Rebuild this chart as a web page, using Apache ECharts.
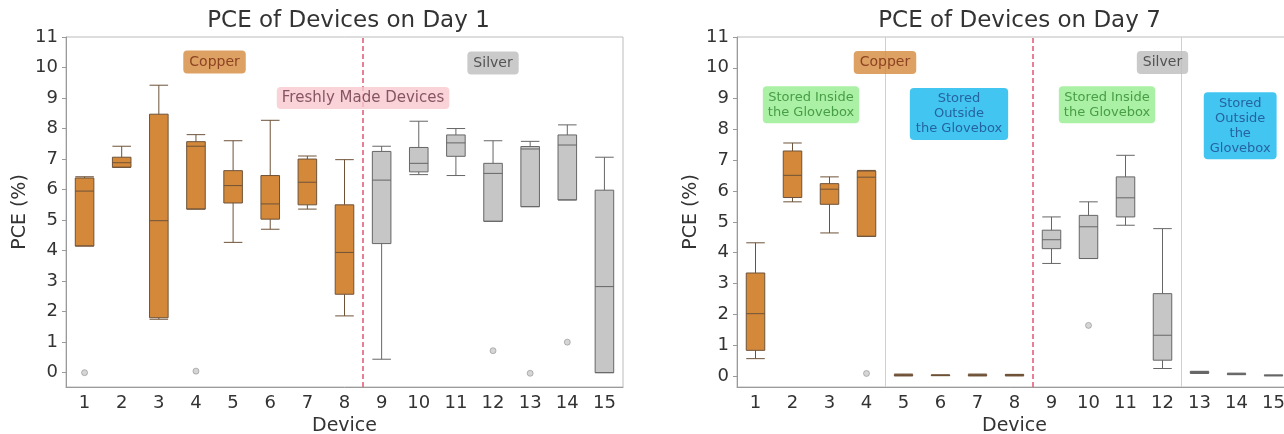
<!DOCTYPE html>
<html>
<head>
<meta charset="utf-8">
<script src="https://cdn.jsdelivr.net/npm/echarts@6/dist/echarts.min.js"></script>
<style>
  html, body { margin: 0; padding: 0; background: #fff; }
  #chart { width: 1284px; height: 434px; }
</style>
</head>
<body>
<div id="chart"></div>
<script>
// Device numbers along the x axis
const devices = ['1', '2', '3', '4', '5', '6', '7', '8', '9', '10', '11', '12', '13', '14', '15'];
// PCE tick values shown on the y axes
const yTicks = [0, 1, 2, 3, 4, 5, 6, 7, 8, 9, 10, 11];
// Devices 1-8 use copper electrodes, 9-15 silver
const copperCount = 8;

// Day 1 box statistics per device: [lower whisker, Q1, median, Q3, upper whisker]
const day1Boxes = [
  [4.15, 4.15, 5.95, 6.38, 6.42],
  [6.73, 6.73, 6.88, 7.06, 7.42],
  [1.75, 1.80, 4.98, 8.47, 9.42],
  [5.36, 5.36, 7.42, 7.57, 7.80],
  [4.27, 5.56, 6.13, 6.62, 7.60],
  [4.70, 5.03, 5.53, 6.46, 8.27],
  [5.36, 5.50, 6.24, 7.00, 7.10],
  [1.86, 2.57, 3.94, 5.50, 6.98],
  [0.44, 4.23, 6.31, 7.25, 7.42],
  [6.49, 6.58, 6.86, 7.38, 8.24],
  [6.46, 7.09, 7.53, 7.79, 8.00],
  [4.96, 4.96, 6.53, 6.86, 7.60],
  [5.44, 5.44, 7.33, 7.41, 7.58],
  [5.66, 5.66, 7.46, 7.79, 8.12],
  [0.00, 0.00, 2.82, 5.98, 7.06]
];
// Day 1 outliers: [device, PCE]
const day1Outliers = [[1, 0.0], [4, 0.05], [12, 0.72], [13, -0.02], [14, 1.0]];

// Day 7 box statistics per device
const day7Boxes = [
  [0.56, 0.83, 2.02, 3.34, 4.32],
  [5.65, 5.79, 6.51, 7.30, 7.56],
  [4.64, 5.57, 6.06, 6.24, 6.46],
  [4.53, 4.53, 6.45, 6.65, 6.67],
  [0.00, 0.01, 0.02, 0.04, 0.06],
  [0.01, 0.01, 0.02, 0.03, 0.03],
  [0.00, 0.01, 0.02, 0.04, 0.06],
  [0.00, 0.01, 0.03, 0.04, 0.05],
  [3.65, 4.13, 4.42, 4.73, 5.16],
  [3.81, 3.81, 4.84, 5.21, 5.65],
  [4.89, 5.16, 5.78, 6.46, 7.16],
  [0.24, 0.51, 1.32, 2.67, 4.78],
  [0.08, 0.09, 0.11, 0.14, 0.15],
  [0.04, 0.05, 0.06, 0.07, 0.09],
  [0.00, 0.01, 0.02, 0.02, 0.03]
];
// Day 7 outliers: [device, PCE]
const day7Outliers = [[4, 0.08], [10, 1.64]];

// Panel titles
const titles = ['PCE of Devices on Day 1', 'PCE of Devices on Day 7'];

// Text notes placed in data coordinates: [device position, PCE, text, style]
const day1Notes = [
  [4.5, 10.18, 'Copper', 'copper'],
  [12, 10.15, 'Silver', 'silver'],
  [8.5, 9.0, 'Freshly Made Devices', 'fresh']
];
const day7Notes = [
  [4.5, 10.17, 'Copper', 'copper'],
  [12, 10.17, 'Silver', 'silver'],
  [2.5, 8.8, 'Stored Inside\nthe Glovebox', 'inside'],
  [6.5, 8.5, 'Stored\nOutside\nthe Glovebox', 'outside'],
  [10.5, 8.8, 'Stored Inside\nthe Glovebox', 'inside'],
  [14.1, 8.12, 'Stored\nOutside\nthe\nGlovebox', 'outside']
];

const FONT = 'DejaVu Sans';
const noteStyles = {
  copper:  { backgroundColor: '#d48a3c', color: '#7a2a10', fontSize: 14, padding: [5, 6, 4, 6] },
  silver:  { backgroundColor: '#bdbdbd', color: '#333333', fontSize: 14, padding: [5, 6, 4, 6] },
  fresh:   { backgroundColor: '#f8c8ce', color: '#6a3444', fontSize: 15, padding: [4, 5, 3, 5] },
  inside:  { backgroundColor: '#95ec8e', color: '#2e8a2e', fontSize: 13, lineHeight: 15, padding: [4, 5, 3, 5] },
  outside: { backgroundColor: '#14b6ee', color: '#1d4a8c', fontSize: 13, lineHeight: 15, padding: [4, 6, 3, 6] }
};

function boxItems(boxes) {
  return boxes.map((b, i) => ({
    value: b,
    itemStyle: i < copperCount
      ? { color: '#d4893a', borderColor: '#6e5238', borderWidth: 1 }
      : { color: '#c6c6c6', borderColor: '#666666', borderWidth: 1 }
  }));
}

function noteItems(notes) {
  return notes.map(n => ({
    value: [n[0], n[1]],
    label: Object.assign({
      show: true, position: 'inside', formatter: n[2], fontFamily: FONT,
      borderRadius: 4, align: 'center'
    }, noteStyles[n[3]])
  }));
}

const grids = [
  { left: 66, top: 37, width: 557, height: 350 },
  { left: 737, top: 37, width: 555, height: 350 }
];
const yRanges = [[-0.47, 11], [-0.36, 11]];

const xAxes = [];
const yAxes = [];
grids.forEach((g, gi) => {
  xAxes.push({
    gridIndex: gi, type: 'category', data: devices, boundaryGap: true,
    axisLine: { onZero: false, lineStyle: { color: '#9a9a9a' } },
    axisTick: { alignWithLabel: true, length: 4, lineStyle: { color: '#9a9a9a' } },
    axisLabel: { fontSize: 18, color: '#333', fontFamily: FONT, margin: 7 },
    name: 'Device', nameLocation: 'middle', nameGap: 26,
    nameTextStyle: { fontSize: 19, color: '#333', fontFamily: FONT },
    splitLine: { show: false }
  });
  yAxes.push({
    gridIndex: gi, type: 'value', min: yRanges[gi][0], max: yRanges[gi][1],
    axisLine: { show: true, onZero: false, lineStyle: { color: '#9a9a9a' } },
    axisTick: { show: true, length: 4, customValues: yTicks, lineStyle: { color: '#9a9a9a' } },
    axisLabel: { fontSize: 18, color: '#333', fontFamily: FONT, margin: 8, customValues: yTicks },
    splitLine: { show: false },
    name: 'PCE (%)', nameLocation: 'middle', nameGap: 36,
    nameTextStyle: { fontSize: 19, color: '#333', fontFamily: FONT }
  });
});
// hidden numeric axes sharing each grid, for points and reference lines
grids.forEach((g, gi) => {
  xAxes.push({ gridIndex: gi, type: 'value', min: 0.5, max: 15.5, show: false, axisLine: { onZero: false } });
});

const outlierStyle = { color: 'rgba(160,160,160,0.55)', borderColor: 'rgba(120,120,120,0.6)', borderWidth: 1 };

const option = {
  animation: false,
  backgroundColor: '#ffffff',
  title: titles.map((t, i) => ({
    text: t, left: grids[i].left + grids[i].width / 2 - (i === 1 ? 0 : 1), top: 5, textAlign: 'center',
    textStyle: { fontSize: 23, fontWeight: 'normal', color: '#333', fontFamily: FONT }
  })),
  grid: grids.map(g => Object.assign({
    show: true, borderColor: '#bbbbbb', borderWidth: 1, backgroundColor: 'transparent',
    containLabel: false, outerBoundsMode: 'none'
  }, g)),
  xAxis: xAxes,
  yAxis: yAxes,
  series: [
    {
      type: 'boxplot', xAxisIndex: 0, yAxisIndex: 0, data: boxItems(day1Boxes),
      boxWidth: ['50%', '50%'], silent: true
    },
    {
      type: 'boxplot', xAxisIndex: 1, yAxisIndex: 1, data: boxItems(day7Boxes),
      boxWidth: ['50%', '50%'], silent: true
    },
    {
      type: 'scatter', xAxisIndex: 2, yAxisIndex: 0, data: day1Outliers, symbolSize: 6,
      itemStyle: outlierStyle, silent: true, z: 3,
      markLine: {
        silent: true, symbol: 'none', label: { show: false },
        data: [{ xAxis: 8.5, lineStyle: { color: '#e4607c', type: [5, 3], width: 1.6 } }]
      }
    },
    {
      type: 'scatter', xAxisIndex: 3, yAxisIndex: 1, data: day7Outliers, symbolSize: 6,
      itemStyle: outlierStyle, silent: true, z: 3,
      markLine: {
        silent: true, symbol: 'none', label: { show: false },
        data: [
          { xAxis: 4.5, lineStyle: { color: '#cfcfcf', type: 'solid', width: 1 } },
          { xAxis: 8.5, lineStyle: { color: '#e4607c', type: [5, 3], width: 1.6 } },
          { xAxis: 12.5, lineStyle: { color: '#cfcfcf', type: 'solid', width: 1 } }
        ]
      }
    },
    {
      type: 'scatter', xAxisIndex: 2, yAxisIndex: 0, data: noteItems(day1Notes),
      symbolSize: 0, silent: true, z: 10
    },
    {
      type: 'scatter', xAxisIndex: 3, yAxisIndex: 1, data: noteItems(day7Notes),
      symbolSize: 0, silent: true, z: 10
    }
  ]
};

const chart = echarts.init(document.getElementById('chart'), null, { renderer: 'canvas' });
chart.setOption(option);
</script>
</body>
</html>
